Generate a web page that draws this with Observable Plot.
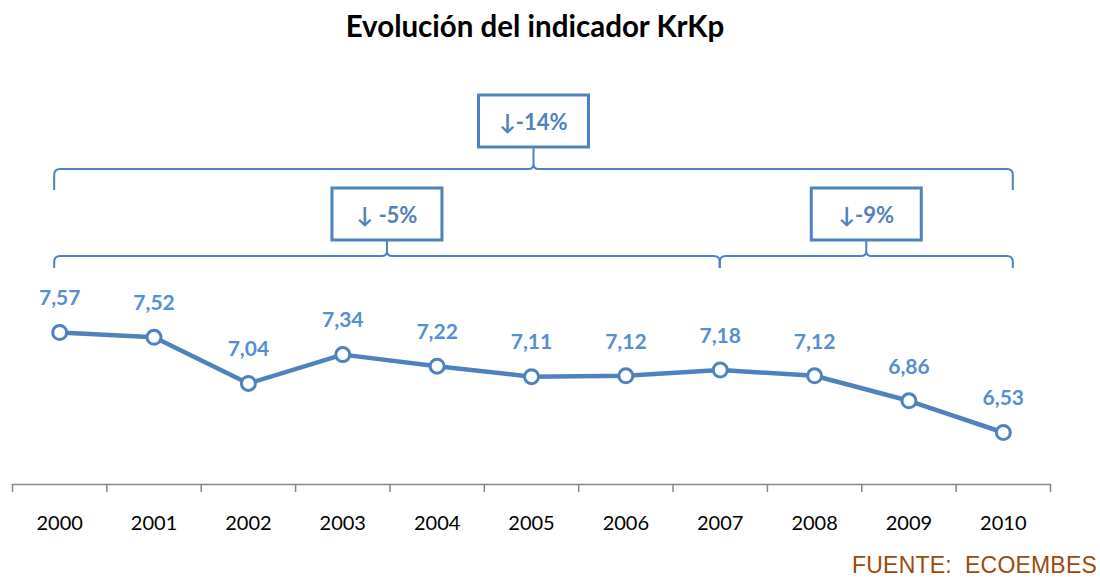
<!DOCTYPE html>
<html>
<head>
<meta charset="utf-8">
<script src="https://cdn.jsdelivr.net/npm/d3@7"></script>
<script src="https://cdn.jsdelivr.net/npm/@observablehq/plot@0.6"></script>
<style>
  html, body { margin: 0; padding: 0; background: #fff; }
  #wrap { position: relative; width: 1100px; height: 579px; overflow: hidden; }
  #title { position: absolute; left: 0; width: 1070px; top: 8px; text-align: center;
           font-family: Lato, "Open Sans", sans-serif; font-weight: 700; font-size: 29.5px; color: #000; }
  #source { position: absolute; right: 3px; top: 554px; height: 23px; line-height: 23px; font-family: "Liberation Sans", Arial, sans-serif;
            font-size: 23px; color: #9C4A0E; letter-spacing: 0.2px; white-space: nowrap; }
  #chart { position: absolute; left: 0; top: 0; }
</style>
</head>
<body>
<div id="wrap">
  <div id="chart"></div>
  <div id="title">Evolución del indicador KrKp</div>
  <div id="source">FUENTE:&nbsp; ECOEMBES</div>
</div>
<script>
const years = [2000, 2001, 2002, 2003, 2004, 2005, 2006, 2007, 2008, 2009, 2010];
const values = [7.57, 7.52, 7.04, 7.34, 7.22, 7.11, 7.12, 7.18, 7.12, 6.86, 6.53];
const labels = ["7,57", "7,52", "7,04", "7,34", "7,22", "7,11", "7,12", "7,18", "7,12", "6,86", "6,53"];
const braceFrom = [2000, 2000, 2007];
const braceTo = [2010, 2007, 2010];
const braceLabel = ["\u2193-14%", "\u2193 -5%", "\u2193-9%"];
const braceTier = [0, 1, 1];

const data = years.map((y, i) => ({year: y, value: values[i], label: labels[i]}));
const braces = braceFrom.map((f, i) => ({from: f, to: braceTo[i], label: braceLabel[i], tier: braceTier[i]}));

const blue = "#4F81BD";
const labelBlue = "#558ED5";
const first = years[0], last = years[years.length - 1];

function braceMark(index, scales, values, dimensions, context) {
  const g = d3.create("svg:g");
  const tiers = [
    {h: 169, end: 190, cusp: 148, boxTop: 95},
    {h: 256, end: 268, cusp: 241, boxTop: 188}
  ];
  const boxW = 110, boxH = 52, r = 6;
  for (const b of braces) {
    const t = tiers[b.tier];
    const x1 = scales.x(b.from) - (b.from === first ? 5 : 0);
    const x2 = scales.x(b.to) + (b.to === last ? 10 : 0);
    const m = (x1 + x2) / 2;
    const c = 5;
    const p = d3.path();
    p.moveTo(x1, t.end);
    p.lineTo(x1, t.h + r);
    p.quadraticCurveTo(x1, t.h, x1 + r, t.h);
    p.lineTo(m - c, t.h);
    p.quadraticCurveTo(m, t.h, m, t.h - c);
    p.lineTo(m, t.cusp);
    p.moveTo(m, t.h - c);
    p.quadraticCurveTo(m, t.h, m + c, t.h);
    p.lineTo(x2 - r, t.h);
    p.quadraticCurveTo(x2, t.h, x2, t.h + r);
    p.lineTo(x2, t.end);
    g.append("path").attr("d", p.toString()).attr("fill", "none")
      .attr("stroke", blue).attr("stroke-width", 2);
    g.append("rect").attr("x", m - boxW / 2).attr("y", t.boxTop)
      .attr("width", boxW).attr("height", boxH).attr("fill", "#fff")
      .attr("stroke", blue).attr("stroke-width", 3);
    g.append("text").attr("x", m).attr("y", t.boxTop + boxH / 2)
      .attr("text-anchor", "middle").attr("dominant-baseline", "central")
      .attr("font-family", "Lato, 'Open Sans', sans-serif").attr("font-weight", 700)
      .attr("font-size", 22).attr("fill", blue).text(b.label);
  }
  return g.node();
}

const plot = Plot.plot({
  width: 1100,
  height: 579,
  marginLeft: 12,
  marginRight: 50,
  marginTop: 0,
  marginBottom: 95,
  style: {fontFamily: "Lato, 'Open Sans', sans-serif", background: "#fff"},
  x: {type: "linear", domain: [first - 0.5, last + 0.5], range: [12, 1050], axis: null, label: null},
  y: {domain: [6.53, 7.57], range: [432, 332], axis: null},
  marks: [
    Plot.frame({anchor: "bottom", stroke: "#868686", strokeWidth: 1.5}),
    Plot.axisX(d3.range(first - 0.5, last + 1, 1), {tickSize: 8, stroke: "#868686", strokeWidth: 1.5, tickFormat: () => "", label: null}),
    Plot.axisX(years, {tickSize: 0, tickPadding: 31, fontSize: 20, fill: "#000", tickFormat: d => String(d), label: null}),
    braceMark,
    Plot.line(data, {x: "year", y: "value", stroke: blue, strokeWidth: 4.5}),
    Plot.dot(data, {x: "year", y: "value", r: 7, fill: "#fff", stroke: blue, strokeWidth: 3}),
    Plot.text(data, {x: "year", y: "value", text: "label", dy: -34, fontSize: 21, fontWeight: 700, fill: labelBlue})
  ]
});
document.getElementById("chart").appendChild(plot);
</script>
</body>
</html>
